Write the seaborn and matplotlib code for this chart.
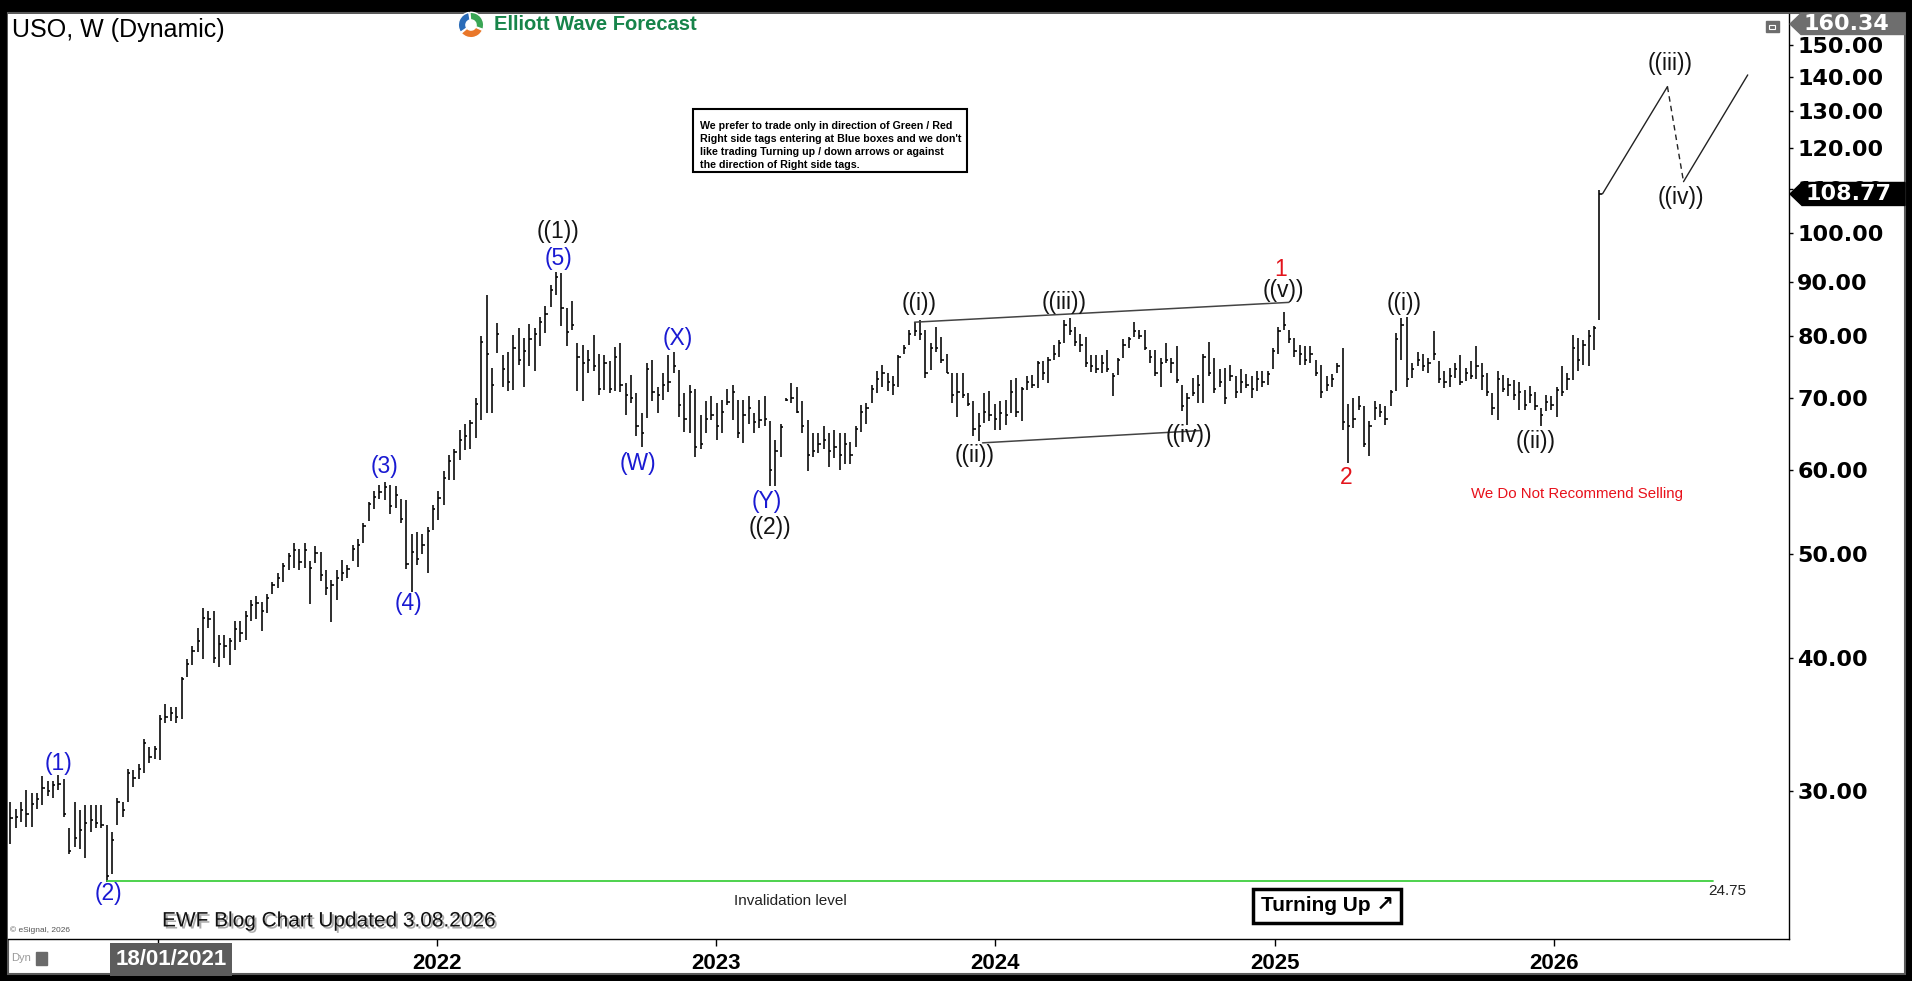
import matplotlib
matplotlib.use("Agg")
import matplotlib.dates as mdates
import matplotlib.patheffects as pe
import matplotlib.pyplot as plt
import matplotlib.ticker as mticker
import pandas as pd
import seaborn as sns
from matplotlib.patches import Polygon, Rectangle, Wedge

# ---- weekly USO bars -----------------------------------------------------
first_week = "2020-06-22"

highs = [
    29.3, 28.9, 29.3, 30.1, 29.9, 29.9, 31.0, 30.7, 30.7, 31.1,
    30.8, 27.7, 29.3, 28.8, 29.1, 29.1, 29.1, 29.1, 27.9, 27.5,
    29.6, 29.3, 31.5, 31.4, 31.8, 33.6, 33.0, 33.1, 35.4, 36.2,
    36.0, 36.0, 38.4, 39.9, 41.0, 42.7, 44.5, 44.3, 44.3, 42.0,
    42.0, 41.8, 43.3, 43.3, 44.3, 45.3, 45.7, 45.1, 45.9, 47.1,
    48.0, 49.1, 50.2, 51.3, 50.6, 51.3, 49.3, 50.9, 50.3, 48.4,
    47.3, 48.4, 49.4, 48.9, 51.0, 51.7, 53.5, 56.0, 57.3, 58.1,
    58.5, 58.1, 58.0, 56.4, 56.2, 52.3, 52.5, 52.3, 53.0, 55.6,
    57.3, 59.8, 62.0, 62.8, 65.4, 66.3, 66.8, 70.0, 80.0, 87.5,
    74.7, 82.3, 76.9, 77.4, 80.3, 81.5, 79.7, 82.1, 81.5, 83.5,
    85.4, 89.4, 92.0, 91.7, 85.0, 86.3, 78.9, 78.6, 77.7, 80.3,
    77.1, 76.9, 75.8, 78.2, 78.8, 72.3, 73.6, 70.8, 67.8, 75.5,
    76.0, 71.8, 73.9, 76.9, 77.4, 74.4, 70.8, 72.0, 71.5, 67.6,
    69.6, 70.3, 69.3, 69.8, 71.5, 72.0, 69.8, 69.8, 70.3, 67.8,
    69.8, 70.3, 66.6, 64.0, 66.3, 70.0, 72.3, 71.8, 69.6, 66.8,
    64.9, 64.9, 65.9, 64.9, 65.4, 64.9, 64.9, 63.7, 65.9, 69.0,
    69.3, 72.0, 74.2, 75.3, 73.9, 73.4, 76.9, 78.5, 81.2, 82.5,
    82.9, 81.1, 78.8, 81.7, 79.9, 77.1, 73.9, 73.9, 73.9, 70.8,
    69.6, 67.8, 70.8, 71.1, 69.1, 69.6, 69.8, 72.8, 73.1, 71.8,
    73.4, 73.6, 75.8, 75.8, 76.6, 78.5, 79.4, 82.9, 83.2, 81.7,
    80.5, 79.9, 76.8, 76.8, 76.8, 77.7, 73.9, 76.3, 79.6, 79.9,
    82.6, 81.1, 81.1, 77.7, 77.7, 76.3, 78.8, 76.3, 78.3, 72.0,
    70.8, 73.1, 73.6, 77.1, 79.1, 76.3, 74.5, 74.7, 75.2, 73.5,
    74.5, 73.7, 73.5, 74.2, 74.2, 74.2, 78.0, 81.7, 84.4, 81.1,
    79.7, 78.5, 78.3, 78.3, 76.1, 75.2, 73.5, 73.7, 75.5, 78.0,
    69.1, 70.1, 70.3, 68.8, 66.6, 69.6, 69.1, 68.8, 71.3, 80.6,
    83.2, 83.5, 75.5, 77.4, 77.1, 76.3, 80.9, 75.8, 74.2, 74.7,
    75.5, 76.9, 74.7, 75.8, 78.3, 75.5, 74.0, 70.8, 74.2, 73.6,
    73.1, 72.8, 72.5, 71.3, 71.9, 71.0, 68.5, 70.5, 70.3, 71.8,
    75.0, 73.9, 80.3, 79.7, 79.4, 81.1, 81.9, 109.7,
]

lows = [
    26.8, 27.7, 28.1, 27.8, 27.8, 28.9, 29.1, 29.7, 29.6, 30.1,
    28.4, 26.2, 26.6, 26.5, 26.0, 27.5, 27.7, 27.7, 24.7, 25.1,
    27.9, 28.4, 29.3, 30.3, 30.8, 31.2, 31.9, 32.2, 32.1, 34.8,
    34.9, 34.8, 35.1, 38.4, 39.4, 40.5, 39.9, 42.7, 39.6, 39.2,
    40.0, 39.4, 40.7, 41.4, 41.6, 43.3, 43.5, 42.4, 44.1, 45.9,
    46.5, 47.1, 48.4, 48.6, 48.4, 48.6, 44.9, 49.1, 47.2, 45.8,
    43.2, 45.3, 47.2, 47.5, 49.3, 48.7, 51.3, 53.7, 55.2, 56.4,
    56.2, 54.5, 55.3, 53.5, 48.5, 46.1, 48.9, 50.1, 48.0, 52.7,
    53.9, 55.6, 58.7, 58.7, 61.3, 62.6, 62.8, 64.2, 66.8, 67.8,
    67.8, 77.2, 71.8, 71.1, 71.3, 75.3, 71.8, 75.0, 74.2, 78.3,
    80.6, 85.2, 87.5, 81.8, 78.3, 81.2, 71.1, 69.6, 74.0, 74.2,
    70.5, 71.3, 70.8, 71.1, 71.0, 67.6, 69.3, 64.5, 63.0, 67.1,
    69.6, 67.8, 69.8, 71.0, 73.9, 67.3, 65.1, 64.9, 61.7, 62.8,
    64.9, 66.8, 64.0, 64.9, 69.0, 66.8, 64.2, 63.6, 66.3, 64.9,
    65.6, 65.9, 57.9, 57.9, 61.7, 69.6, 69.3, 67.8, 64.9, 59.8,
    61.7, 62.2, 62.8, 60.4, 61.5, 60.0, 60.8, 60.8, 63.1, 65.1,
    66.3, 69.3, 70.8, 71.8, 71.1, 70.5, 71.8, 77.0, 78.5, 80.0,
    79.4, 73.1, 74.4, 77.4, 75.5, 73.9, 69.3, 67.3, 70.0, 68.8,
    64.5, 63.8, 66.4, 66.6, 65.4, 65.4, 66.1, 67.8, 67.3, 66.6,
    71.3, 71.6, 71.6, 72.8, 72.3, 76.1, 76.6, 78.8, 80.2, 78.3,
    77.4, 74.9, 74.1, 73.9, 73.9, 74.1, 70.3, 73.6, 76.3, 78.0,
    79.9, 79.6, 77.7, 75.5, 73.4, 71.8, 75.5, 73.9, 72.3, 68.1,
    66.1, 70.3, 69.3, 69.3, 73.4, 70.8, 71.8, 69.1, 72.7, 70.1,
    70.8, 71.6, 70.1, 71.1, 71.8, 72.0, 74.5, 77.1, 81.1, 78.8,
    76.6, 75.2, 75.2, 75.5, 73.5, 70.1, 71.1, 71.8, 74.0, 65.4,
    60.9, 65.6, 68.3, 63.1, 61.8, 66.8, 67.3, 66.1, 68.8, 71.1,
    76.1, 71.8, 73.2, 75.0, 74.2, 74.0, 76.1, 72.3, 71.6, 71.8,
    73.2, 72.0, 72.7, 73.0, 73.0, 71.3, 70.3, 67.6, 66.8, 71.0,
    70.3, 69.8, 68.3, 68.3, 69.3, 68.3, 65.9, 68.1, 68.3, 67.3,
    70.3, 71.3, 72.8, 74.2, 75.3, 75.0, 77.7, 82.9,
]

closes = [
    28.3, 28.4, 28.8, 28.6, 29.2, 29.5, 30.2, 30.0, 30.4, 30.5,
    28.6, 26.4, 27.1, 27.6, 28.0, 28.2, 28.0, 27.9, 25.0, 27.0,
    29.3, 28.8, 31.2, 30.9, 31.5, 33.3, 32.3, 32.9, 35.1, 35.2,
    35.5, 35.2, 38.2, 39.5, 40.6, 41.5, 43.6, 43.5, 40.0, 41.2,
    41.0, 41.5, 42.6, 42.2, 43.8, 44.8, 45.0, 44.3, 45.5, 46.8,
    47.5, 48.8, 49.8, 50.5, 49.2, 50.5, 48.6, 50.2, 47.8, 46.5,
    46.8, 47.5, 48.0, 48.5, 50.6, 51.0, 53.2, 55.8, 56.6, 57.2,
    57.8, 55.5, 56.8, 54.0, 49.0, 50.3, 49.5, 51.0, 52.6, 55.2,
    56.5, 59.0, 61.2, 62.4, 64.0, 64.5, 66.4, 69.2, 79.0, 77.0,
    72.0, 80.5, 74.5, 72.5, 78.0, 76.0, 77.5, 79.5, 80.5, 82.5,
    84.0, 88.5, 91.0, 85.0, 80.8, 82.0, 76.5, 75.5, 76.0, 75.0,
    71.5, 75.5, 71.5, 76.5, 72.0, 70.5, 70.0, 66.0, 65.0, 74.5,
    71.0, 70.5, 72.0, 72.5, 75.0, 69.0, 67.0, 71.0, 63.0, 63.5,
    67.0, 67.5, 66.0, 68.0, 69.5, 71.0, 65.0, 67.5, 68.5, 66.5,
    66.8, 67.0, 60.0, 62.5, 65.8, 69.8, 70.0, 68.0, 66.0, 62.0,
    62.5, 63.5, 64.0, 62.5, 63.0, 62.0, 63.5, 62.0, 65.5, 68.0,
    68.5, 71.5, 73.0, 74.0, 72.5, 72.0, 76.5, 78.0, 80.5, 81.0,
    80.5, 74.0, 78.0, 78.0, 76.0, 74.0, 70.5, 71.0, 70.5, 69.2,
    65.5, 66.0, 68.0, 67.5, 67.0, 67.8, 67.5, 71.0, 68.0, 71.5,
    72.5, 72.0, 75.5, 74.0, 76.0, 77.0, 78.8, 82.0, 81.0, 79.0,
    78.5, 75.5, 75.0, 74.5, 75.5, 74.5, 73.5, 76.0, 78.5, 79.5,
    81.0, 80.0, 78.0, 76.5, 74.0, 75.5, 76.0, 75.5, 72.8, 68.8,
    70.0, 70.8, 72.0, 76.5, 74.0, 71.5, 72.5, 70.0, 73.5, 71.0,
    72.5, 72.0, 71.5, 73.0, 72.5, 73.8, 77.5, 81.0, 82.0, 79.5,
    77.5, 77.0, 76.0, 77.0, 74.0, 71.0, 72.0, 73.0, 75.0, 66.5,
    66.0, 67.0, 68.8, 63.5, 66.0, 68.5, 68.0, 67.0, 71.0, 79.5,
    82.0, 73.0, 74.5, 76.0, 75.0, 75.5, 77.0, 73.0, 72.5, 73.5,
    74.5, 72.5, 74.0, 73.5, 75.0, 73.5, 71.0, 68.5, 73.0, 71.5,
    72.0, 70.5, 71.0, 69.0, 70.5, 68.8, 67.5, 69.5, 69.0, 71.3,
    71.0, 73.0, 78.0, 76.0, 78.5, 80.0, 81.5, 108.77,
]

last_close = 108.77
axis_high = 160.34
axis_low = 21.82
view_start, view_end = "2020-06-19", "2026-11-05"

invalidation_level = 24.75
invalidation_dates = ["2020-10-26", "2026-07-28"]

upper_channel_dates = ["2023-09-18", "2025-01-20"]
upper_channel_prices = [82.5, 86.1]
lower_channel_dates = ["2023-12-16", "2024-09-25"]
lower_channel_prices = [63.6, 65.3]

# projected ((iii)) / ((iv)) / ((v)) path
projection_dates = ["2026-03-06", "2026-05-30", "2026-06-20", "2026-09-12"]
projection_prices = [108.8, 137.1, 111.7, 140.6]

wave_texts = ["(1)", "(2)", "(3)", "(4)", "(5)", "((1))", "(W)", "(X)", "(Y)", "((2))",
              "((i))", "((ii))", "((iii))", "((iv))", "((v))", "1", "2",
              "((i))", "((ii))", "((iii))", "((iv))"]
wave_dates = ["2020-08-24", "2020-10-28", "2021-10-24", "2021-11-25", "2022-06-09",
              "2022-06-09", "2022-09-21", "2022-11-12", "2023-03-08", "2023-03-13",
              "2023-09-24", "2023-12-06", "2024-04-01", "2024-09-11", "2025-01-12",
              "2025-01-09", "2025-04-05", "2025-06-19", "2025-12-08", "2026-06-03",
              "2026-06-16"]
wave_prices = [31.87, 24.05, 60.39, 44.98, 94.67, 100.3, 60.86, 79.58, 56.09, 52.94,
               85.9, 61.84, 86.12, 64.66, 88.42, 92.45, 58.97, 85.9, 63.82, 144.2,
               107.98]
wave_degrees = ["intermediate"] * 5 + ["primary", "intermediate", "intermediate",
                                       "intermediate", "primary"] + ["primary"] * 5 + \
               ["cycle", "cycle"] + ["primary"] * 4

price_ticks = [30, 40, 50, 60, 70, 80, 90, 100, 110, 120, 130, 140, 150]
year_ticks = ["2021-01-01", "2022-01-01", "2023-01-01", "2024-01-01", "2025-01-01", "2026-01-01"]
year_labels = ["", "2022", "2023", "2024", "2025", "2026"]
cursor_date = "2021-01-18"

note_lines = [
    "We prefer to trade only in direction of Green / Red",
    "Right side tags entering at Blue boxes and we don't",
    "like trading Turning up / down arrows or against",
    "the direction of Right side tags.",
]

degree_colors = {"intermediate": "#1a1ad2", "primary": "#141414", "cycle": "#e3141c"}

# ---- figure ---------------------------------------------------------------
sns.set_theme(style="white")
plt.rcParams["font.family"] = ["Liberation Sans", "DejaVu Sans"]
AXIS_FONT = ["DejaVu Sans"]

W, H = 1912, 981
fig = plt.figure(figsize=(W / 100, H / 100), dpi=100)
fig.patch.set_facecolor("black")


def fx(px):
    return px / W


def fy(py):
    return 1 - py / H


def dnum(s):
    return mdates.date2num(pd.Timestamp(s))


fig.add_artist(Rectangle((fx(8), fy(974)), fx(1905) - fx(8), fy(13) - fy(974),
                         transform=fig.transFigure, facecolor="white",
                         edgecolor="#5a5a5a", linewidth=1.5, zorder=-1))

ax = fig.add_axes([fx(8), fy(939), fx(1789) - fx(8), fy(14) - fy(939)])
ax.set_facecolor("white")
ax.set_yscale("log")

weeks = pd.date_range(first_week, periods=len(highs), freq="7D")
ax.vlines(weeks, lows, highs, color="black", linewidth=1.15, zorder=2)
ax.hlines(closes, weeks, weeks + pd.Timedelta(days=3), color="black", linewidth=1.15, zorder=2)

# channel lines and projection drawn through seaborn
upper = pd.DataFrame({"date": pd.to_datetime(upper_channel_dates), "price": upper_channel_prices})
lower = pd.DataFrame({"date": pd.to_datetime(lower_channel_dates), "price": lower_channel_prices})
sns.lineplot(data=upper, x="date", y="price", ax=ax, color="#444444", linewidth=1.1)
sns.lineplot(data=lower, x="date", y="price", ax=ax, color="#444444", linewidth=1.1)

proj = pd.DataFrame({"date": pd.to_datetime(projection_dates), "price": projection_prices})
sns.lineplot(data=proj.iloc[0:2], x="date", y="price", ax=ax, color="#222222", linewidth=1.0)
sns.lineplot(data=proj.iloc[1:3], x="date", y="price", ax=ax, color="#222222", linewidth=1.0,
             linestyle=(0, (4, 3)))
sns.lineplot(data=proj.iloc[2:4], x="date", y="price", ax=ax, color="#222222", linewidth=1.0)

inval = pd.DataFrame({"date": pd.to_datetime(invalidation_dates),
                      "price": [invalidation_level] * len(invalidation_dates)})
sns.lineplot(data=inval, x="date", y="price", ax=ax, color="#3fcf3f", linewidth=1.3)

ax.set_xlim(dnum(view_start), dnum(view_end))
ax.set_ylim(axis_low, axis_high)
ax.set(xlabel="", ylabel="")

# axes styling
for side in ("top", "left"):
    ax.spines[side].set_visible(False)
for side in ("right", "bottom"):
    ax.spines[side].set_visible(True)
    ax.spines[side].set_color("black")
    ax.spines[side].set_linewidth(1.0)

ax.yaxis.tick_right()
ax.set_yticks(price_ticks, labels=[f"{p:.2f}" for p in price_ticks],
              fontsize=16, fontweight="bold", color="black", family=AXIS_FONT)
ax.yaxis.set_minor_locator(mticker.NullLocator())
ax.yaxis.set_minor_formatter(mticker.NullFormatter())
ax.tick_params(axis="y", left=False, right=True, labelleft=False, labelright=True,
               direction="out", length=3, width=1, pad=3, color="black")

ax.set_xticks([dnum(d) for d in year_ticks], labels=year_labels,
              fontsize=16, fontweight="bold", color="black")
ax.tick_params(axis="x", bottom=True, direction="out", length=5, width=1, pad=5, color="black")
ax.grid(False)

# wave labels
for text, d, p, deg in zip(wave_texts, wave_dates, wave_prices, wave_degrees):
    ax.text(dnum(d), p, text, color=degree_colors[deg], fontsize=16.5,
            ha="center", va="center", zorder=4)

ax.text(dnum("2026-01-31"), 56.99, "We Do Not Recommend Selling", color="#e8111b",
        fontsize=10.8, ha="center", va="center")
ax.text(dnum("2023-04-08"), 23.69, "Invalidation level", color="#222222",
        fontsize=11, ha="center", va="center")
ax.text(dnum("2026-07-22"), 24.2, f"{invalidation_level:.2f}", color="#222222",
        fontsize=11, ha="left", va="center")

# cursor date box on x axis
ax.text(dnum(cursor_date), -0.0222, "18/01/2021", transform=ax.get_xaxis_transform(),
        ha="center", va="center", fontsize=16, fontweight="bold", color="white",
        bbox=dict(boxstyle="square,pad=0.25", facecolor="#5c5c5c", edgecolor="none"),
        clip_on=False)

# note box
ax.add_patch(Rectangle((0.3844, 0.8288), 0.1540, 0.0684, transform=ax.transAxes,
                       facecolor="white", edgecolor="black", linewidth=1.5, zorder=5))
for i, line in enumerate(note_lines):
    ax.text(0.3886, 0.8789 - i * 0.01405, line, transform=ax.transAxes, fontsize=7.65,
            fontweight="bold", color="black", ha="left", va="center", zorder=6)

# footer texts
ax.text(0.0865, 0.0195, "EWF Blog Chart Updated 3.08.2026", transform=ax.transAxes,
        fontsize=15, color="#111111", ha="left", va="center",
        path_effects=[pe.withSimplePatchShadow(offset=(1.5, -1.5), shadow_rgbFace="#888888",
                                               alpha=0.7)])
ax.text(0.0012, 0.0097, "\u00a9 eSignal, 2026", transform=ax.transAxes,
        fontsize=6, color="#555555", ha="left", va="center")
ax.text(0.7406, 0.0357, "Turning Up \u2197", transform=ax.transAxes, fontsize=15,
        fontweight="bold", color="black", ha="center", va="center",
        bbox=dict(boxstyle="square,pad=0.35", facecolor="white", edgecolor="black",
                  linewidth=2.5))

# title and logo
fig.text(fx(12), fy(30), "USO, W (Dynamic)", fontsize=18, color="black", ha="left", va="center")
fig.text(fx(494), fy(25), "Elliott Wave Forecast", fontsize=14.5, fontweight="bold",
         color="#17844a", ha="left", va="center")
logo = fig.add_axes([fx(457), fy(39), 28 / W, 28 / H])
logo.set_xlim(-1.1, 1.1)
logo.set_ylim(-1.1, 1.1)
logo.set_aspect("equal")
logo.axis("off")
for start, color in ((100, "#2b6cb8"), (220, "#e9772a"), (340, "#3aa655")):
    logo.add_patch(Wedge((0, 0), 1.0, start, start + 115, width=0.6, facecolor=color))

# right-axis price tags
fig.canvas.draw()
y_last = ax.transData.transform((dnum(view_start), last_close))[1]
tag = Polygon([(1790, y_last), (1802, y_last + 11.5), (1905, y_last + 11.5),
               (1905, y_last - 11.5), (1802, y_last - 11.5)],
              closed=True, facecolor="black", edgecolor="black",
              transform=None, zorder=10)
fig.add_artist(tag)
fig.text(fx(1806), y_last / H, f"{last_close:.2f}", fontsize=16, fontweight="bold",
         color="white", ha="left", va="center", zorder=11, family=AXIS_FONT)

y_top = H - 24
tag_top = Polygon([(1790, y_top), (1801, y_top + 10.5), (1905, y_top + 10.5),
                   (1905, y_top - 10.5), (1801, y_top - 10.5)],
                  closed=True, facecolor="#6e6e6e", edgecolor="#6e6e6e",
                  transform=None, zorder=10)
fig.add_artist(tag_top)
fig.text(fx(1804), y_top / H, f"{axis_high:.2f}", fontsize=16, fontweight="bold",
         color="white", ha="left", va="center", zorder=11, family=AXIS_FONT)

# small window icons
fig.add_artist(Rectangle((fx(1766), fy(32)), 13 / W, 11 / H, transform=fig.transFigure,
                         facecolor="#6d6d6d", edgecolor="#6d6d6d", zorder=10))
fig.add_artist(Rectangle((fx(1769), fy(29)), 6 / W, 4 / H, transform=fig.transFigure,
                         facecolor="none", edgecolor="white", linewidth=0.8, zorder=11))
fig.text(fx(11), fy(958), "Dyn", fontsize=8, color="#9a9a9a", ha="left", va="center")
fig.add_artist(Rectangle((fx(36), fy(965)), 11 / W, 13 / H, transform=fig.transFigure,
                         facecolor="#6a6a6a", edgecolor="#6a6a6a", zorder=10))

fig.savefig("out.png", dpi=100, facecolor=fig.get_facecolor())
